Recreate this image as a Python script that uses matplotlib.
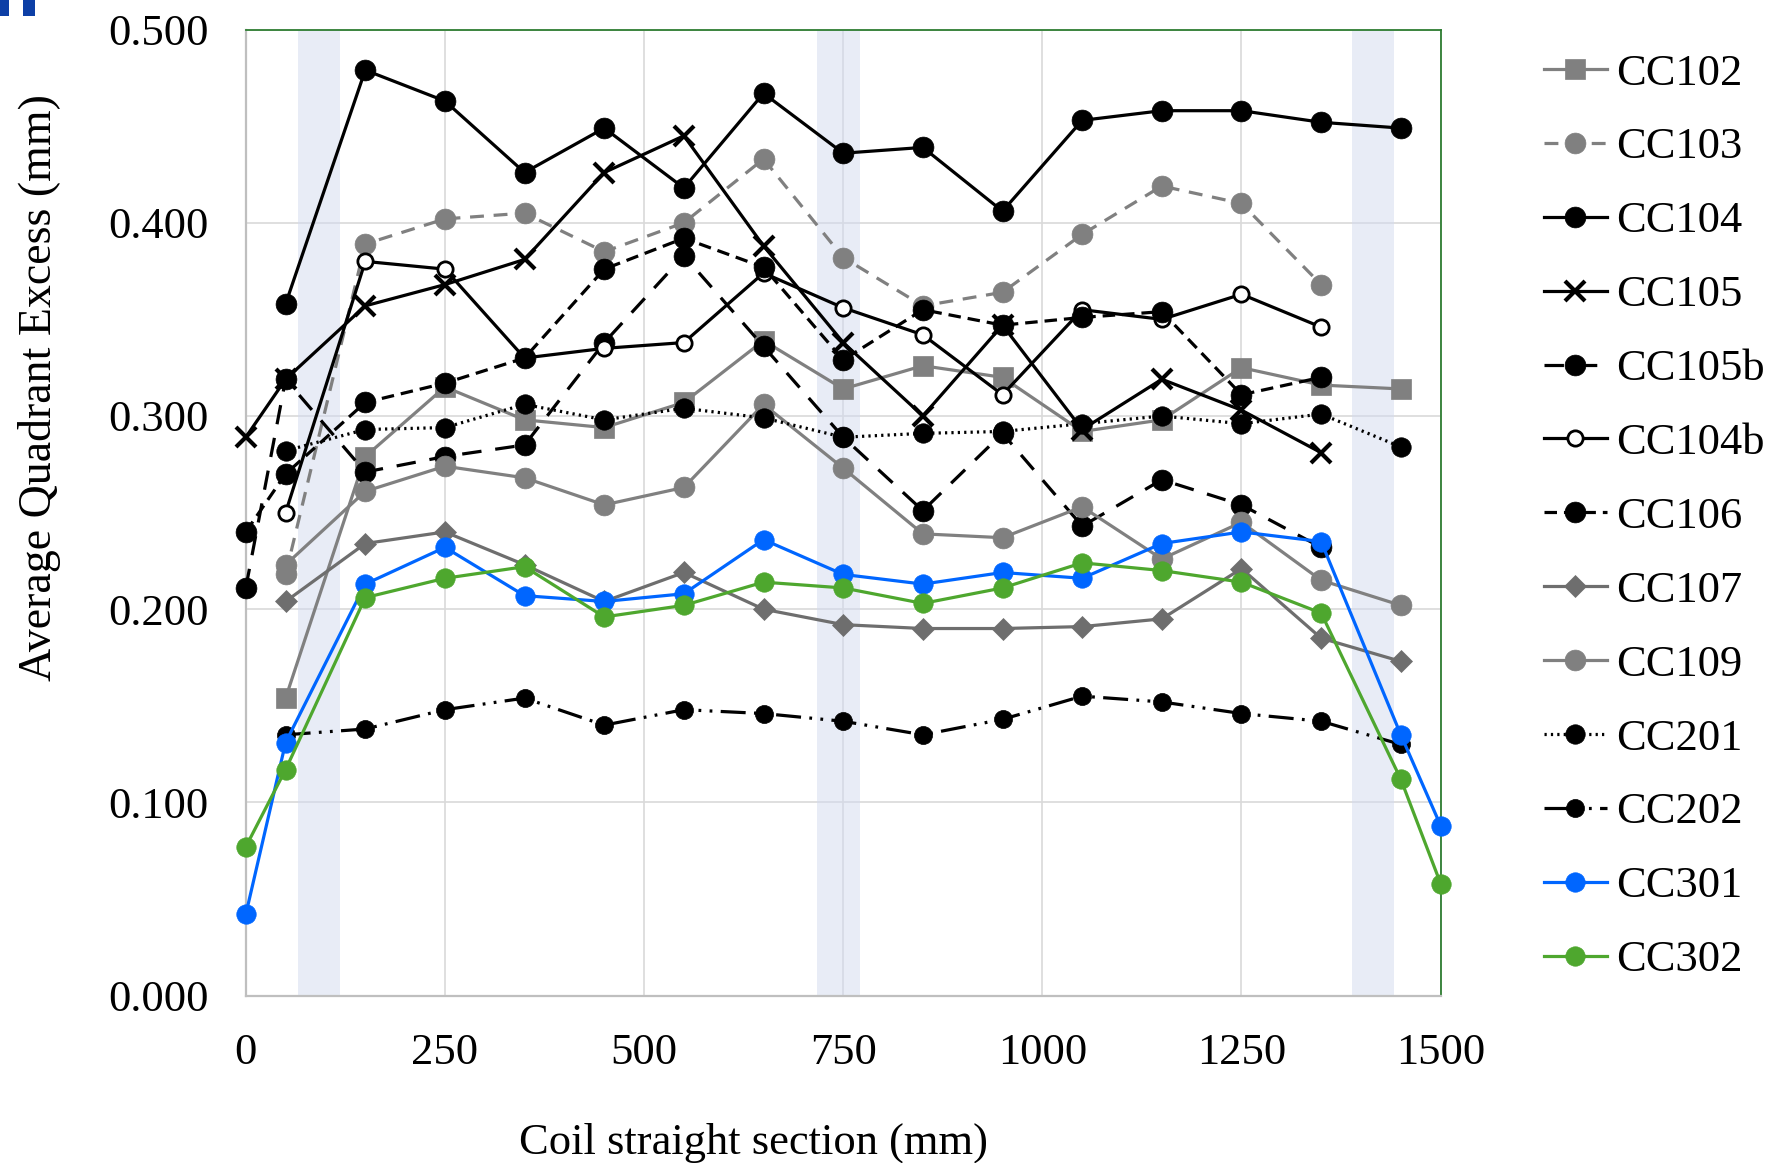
import numpy as np
import matplotlib.pyplot as plt
from matplotlib.patches import Rectangle

plt.rcParams['font.family'] = ['Liberation Serif', 'DejaVu Serif']
plt.rcParams['lines.scale_dashes'] = False

nan = np.nan

# measurement positions along the straight section (mm)
pos = [0, 50, 150, 250, 350, 450, 550, 650, 750, 850, 950, 1050, 1150, 1250, 1350, 1450, 1500]

cc102 = [nan, 0.154, 0.279, 0.315, 0.298, 0.294, 0.307, 0.339, 0.314, 0.326, 0.320, 0.292, 0.298, 0.325, 0.316, 0.314, nan]
cc103 = [nan, 0.218, 0.389, 0.402, 0.405, 0.385, 0.400, 0.433, 0.382, 0.357, 0.364, 0.394, 0.419, 0.410, 0.368, nan, nan]
cc104 = [nan, 0.358, 0.479, 0.463, 0.426, 0.449, 0.418, 0.467, 0.436, 0.439, 0.406, 0.453, 0.458, 0.458, 0.452, 0.449, nan]
cc105 = [0.289, 0.319, 0.357, 0.368, 0.381, 0.426, 0.445, 0.388, 0.338, 0.300, 0.347, 0.293, 0.319, 0.303, 0.281, nan, nan]
cc105b = [0.211, 0.319, 0.271, 0.279, 0.285, 0.338, 0.383, 0.336, 0.289, 0.251, 0.291, 0.243, 0.267, 0.254, 0.232, nan, nan]
cc104b = [nan, 0.250, 0.380, 0.376, 0.330, 0.335, 0.338, 0.374, 0.356, 0.342, 0.311, 0.355, 0.350, 0.363, 0.346, nan, nan]
cc106 = [0.240, 0.270, 0.307, 0.317, 0.330, 0.376, 0.392, 0.377, 0.329, 0.355, 0.347, 0.351, 0.354, 0.311, 0.320, nan, nan]
cc107 = [nan, 0.204, 0.234, 0.240, 0.223, 0.204, 0.219, 0.200, 0.192, 0.190, 0.190, 0.191, 0.195, 0.221, 0.185, 0.173, nan]
cc109 = [nan, 0.223, 0.261, 0.274, 0.268, 0.254, 0.263, 0.306, 0.273, 0.239, 0.237, 0.253, 0.226, 0.245, 0.215, 0.202, nan]
cc201 = [nan, 0.282, 0.293, 0.294, 0.306, 0.298, 0.304, 0.299, 0.289, 0.291, 0.292, 0.296, 0.300, 0.296, 0.301, 0.284, nan]
cc202 = [nan, 0.135, 0.138, 0.148, 0.154, 0.140, 0.148, 0.146, 0.142, 0.135, 0.143, 0.155, 0.152, 0.146, 0.142, 0.130, nan]
cc301 = [0.042, 0.131, 0.213, 0.232, 0.207, 0.204, 0.208, 0.236, 0.218, 0.213, 0.219, 0.216, 0.234, 0.240, 0.235, 0.135, 0.088]
cc302 = [0.077, 0.117, 0.206, 0.216, 0.222, 0.196, 0.202, 0.214, 0.211, 0.203, 0.211, 0.224, 0.220, 0.214, 0.198, 0.112, 0.058]

# shaded zones along the section (mm)
bands = [(65, 118), (717, 771), (1389, 1442)]

xticks = [0, 250, 500, 750, 1000, 1250, 1500]
yticks = [0.0, 0.1, 0.2, 0.3, 0.4, 0.5]

gray = '#808080'
dgray = '#6e6e6e'
blue = '#0066ff'
green = '#4ea72e'

# name, data, color, marker, markersize, dash pattern (None = solid), face
series = [
    ('CC102', cc102, gray, 's', 14, None, None),
    ('CC103', cc103, gray, 'o', 15, (10, 7), None),
    ('CC104', cc104, 'k', 'o', 15, None, None),
    ('CC105', cc105, 'k', 'x', 14, None, None),
    ('CC105b', cc105b, 'k', 'o', 15, (14, 10), None),
    ('CC104b', cc104b, 'k', 'o', 11, None, 'white'),
    ('CC106', cc106, 'k', 'o', 15, (9, 5), None),
    ('CC107', cc107, dgray, 'D', 11, None, None),
    ('CC109', cc109, gray, 'o', 15, None, None),
    ('CC201', cc201, 'k', 'o', 14, (1.6, 3), None),
    ('CC202', cc202, 'k', 'o', 13, (18, 6, 2, 6, 2, 6), None),
    ('CC301', cc301, blue, 'o', 14, None, None),
    ('CC302', cc302, green, 'o', 14, None, None),
]

fig = plt.figure(figsize=(17.72, 11.63), dpi=100)
ax = fig.add_axes([0.1387, 0.1439, 0.6743, 0.8307])

for a, b in bands:
    ax.axvspan(a, b, color='#d3daef', alpha=0.5, lw=0, zorder=1.5)

handles = []
for name, vals, c, m, ms, dash, face in series:
    if face:
        mew = 2.0
    elif m == 'x':
        mew = 3.0
    else:
        mew = 0.5
    ln, = ax.plot(pos, vals, color=c, lw=2.3, marker=m, ms=ms,
                  mfc=face if face else c, mec=c, mew=mew,
                  clip_on=False, zorder=3, label=name)
    if dash is not None:
        ln.set_dashes(dash)
    handles.append(ln)

ax.set_xlim(0, 1500)
ax.set_ylim(0, 0.5)
ax.set_xticks(xticks)
ax.set_yticks(yticks)
ax.set_yticklabels(['%.3f' % v for v in yticks])
ax.tick_params(length=0, labelsize=32)
ax.tick_params(axis='y', pad=27)
ax.tick_params(axis='x', pad=27)
ax.grid(True, color='#d9d9d9', lw=1.2, zorder=1)
ax.set_axisbelow(True)

for s in ('left', 'bottom'):
    ax.spines[s].set_color('#bfbfbf')
    ax.spines[s].set_linewidth(1.6)
for s in ('top', 'right'):
    ax.spines[s].set_color('#2e7d32')
    ax.spines[s].set_linewidth(1.3)

fig.text(0.0223, 0.667, 'Average Quadrant Excess (mm)', rotation=90,
         ha='center', va='center', fontsize=33)
fig.text(0.4255, 0.017, 'Coil straight section (mm)',
         ha='center', va='center', fontsize=32)

fig.legend(handles=handles, loc='upper left', bbox_to_anchor=(0.8713, 0.954),
           frameon=False, fontsize=32, handlelength=1.42, handletextpad=0.2,
           labelspacing=0.76, borderpad=0, borderaxespad=0, numpoints=1)

# fragment of a panel tag in the corner
fig.patches.append(Rectangle((0, 0.986), 0.005, 0.014, transform=fig.transFigure,
                             color='#0d3fa6', lw=0))
fig.patches.append(Rectangle((0.013, 0.986), 0.007, 0.014, transform=fig.transFigure,
                             color='#0d3fa6', lw=0))

fig.savefig('out.png', dpi=100)
